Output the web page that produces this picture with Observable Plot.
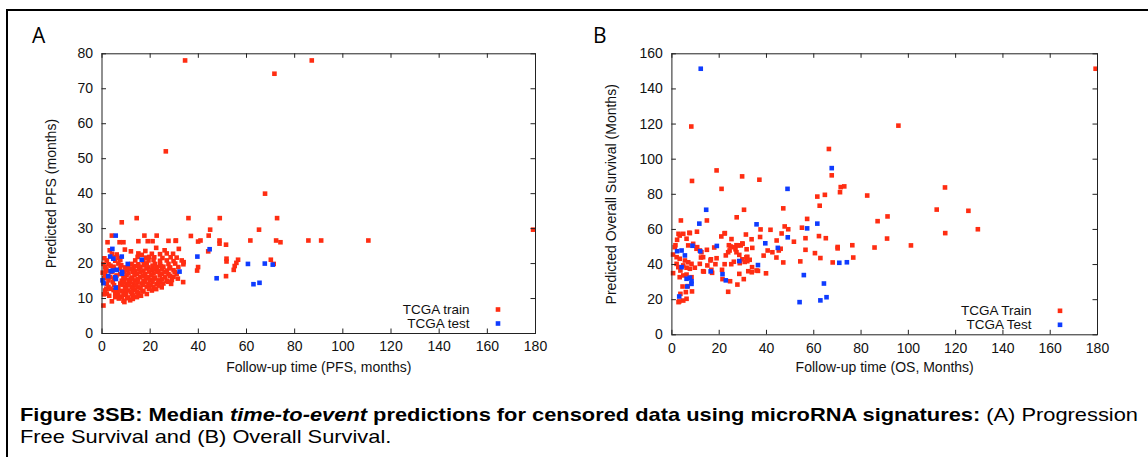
<!DOCTYPE html>
<html><head><meta charset="utf-8">
<script src="https://cdn.jsdelivr.net/npm/d3@7"></script>
<script src="https://cdn.jsdelivr.net/npm/@observablehq/plot@0.6"></script>
<style>
body{margin:0;background:#fff;}
#page{position:relative;width:1148px;height:457px;overflow:hidden;background:#fff;}
#box{position:absolute;left:6px;top:9px;width:1300px;height:600px;border-left:2px solid #000;border-top:2px solid #000;}
#pa{position:absolute;left:0;top:0;}
#pb{position:absolute;left:570px;top:0;}
#ov{position:absolute;left:0;top:0;}
</style></head>
<body><div id="page"><div id="box"></div><div id="pa"></div><div id="pb"></div><svg id="ov" width="1148" height="457"></svg></div>
<script>
// ---------- data ----------
const xTicks = [0,20,40,60,80,100,120,140,160,180];
const yTicksA = [0,10,20,30,40,50,60,70,80];
const yTicksB = [0,20,40,60,80,100,120,140,160];
const legendA = ["TCGA train","TCGA test"];
const legendB = ["TCGA Train","TCGA Test"];

const trainA = [
[34.5,78.1],[87.1,78.1],[71.6,74.3],[26.5,52.1],[67.7,40.0],[14.4,33.0],[35.9,33.0],[48.9,33.0],[72.7,33.0],[8.2,31.8],[179.0,29.7],[65.2,29.7],[44.9,29.7],[110.6,26.6],[91.0,26.6],[85.7,26.6],[72.3,26.6],[74.1,26.1],[61.6,26.6],[70.1,21.1],[71.3,19.9],[56.5,21.1],[55.8,20.2],[55.1,19.3],[54.7,18.2],[51.7,21.4],[51.7,20.6],[51.5,25.4],[51.5,16.4],[48.8,26.6],[48.8,25.7],[44.3,28.0],[44.1,23.5],[39.9,26.3],[40.9,26.6],[39.9,19.0],[39.5,18.0],[36.9,27.9],[33.9,20.4],[33.7,14.7],[30.7,26.6],[31.9,24.2],
[4.1,28.0],[8.9,26.1],[7.3,26.1],[2.3,26.1],[17.6,28.0],[22.7,28.0],[19.0,26.4],[21.0,26.4],[15.1,26.4],[27.6,26.5],[30.6,26.5],[3.2,23.8],[9.5,24.0],[12.0,23.5],[18.0,23.6],[22.5,24.5],[26.0,23.8],[29.5,22.8],[1.0,21.5],[1.5,18.5],[0.3,17.4],[1.0,15.8],[1.8,12.8],[0.8,11.2],[3.0,10.8],[9.3,9.0],[0.6,8.0],
[4.1,22.8],[6.1,22.6],[15.1,22.9],[16.5,22.5],[20.7,22.8],[24.1,22.7],[26.9,22.9],
[4.8,21.8],[6.8,21.6],[14.8,21.9],[18.3,21.7],[19.6,21.9],[21.7,21.8],[25.1,21.6],[28.5,21.8],[31.0,21.7],
[2.0,20.9],[5.5,20.8],[7.6,21.0],[13.8,20.9],[17.2,20.7],[19.3,20.9],[21.4,21.0],[24.1,20.8],[26.9,20.9],[29.7,20.7],[33.1,20.9],
[0.6,19.9],[2.7,19.8],[6.8,20.0],[12.3,19.9],[15.1,19.8],[18.6,20.0],[22.0,19.9],[24.1,19.7],[27.6,19.9],[30.4,20.0],[33.8,19.8],
[1.3,19.0],[4.8,19.1],[9.6,18.9],[13.1,19.0],[15.9,19.1],[19.3,18.9],[22.7,19.0],[25.5,19.1],[28.3,18.9],[31.7,19.0],
[2.0,18.0],[10.3,18.1],[13.8,17.9],[17.2,18.0],[20.7,18.1],[23.4,17.9],[26.9,18.0],[29.7,18.1],
[1.3,17.1],[7.6,17.0],[11.0,17.2],[14.5,17.1],[17.9,17.0],[21.4,17.2],[24.8,17.1],[27.6,17.0],[31.0,17.1],
[3.4,16.1],[8.9,16.2],[12.4,16.0],[15.8,16.1],[19.3,16.2],[22.0,16.0],[26.2,16.1],[29.7,16.2],
[2.7,15.2],[8.2,15.1],[11.0,15.3],[13.8,15.2],[17.2,15.1],[20.0,15.3],[23.4,15.2],[26.9,15.1],[29.0,15.3],
[2.0,14.2],[7.6,14.3],[10.3,14.1],[13.1,14.2],[16.5,14.3],[19.3,14.1],[22.7,14.2],[25.5,14.3],[28.7,14.2],
[2.7,13.3],[6.8,13.2],[9.6,13.4],[12.4,13.3],[15.1,13.2],[18.6,13.4],[21.4,13.3],[24.8,13.2],
[1.3,12.3],[4.8,12.4],[8.2,12.2],[11.0,12.3],[13.8,12.4],[17.2,12.2],[20.7,12.3],
[2.0,11.4],[5.5,11.5],[8.9,11.3],[12.4,11.4],[15.1,11.5],[18.6,11.3],
[5.5,10.4],[8.2,10.5],[11.0,10.3],[14.5,10.4],
[8.9,9.4],[11.7,9.5],[4.1,9.2],
[3.5,19.4],[8.0,19.5],[11.0,19.4],[14.0,19.3],[17.5,19.5],[21.0,19.4],[24.5,19.3],
[5.0,18.5],[7.5,18.6],[12.0,18.5],[15.5,18.4],[18.5,18.6],[22.0,18.5],[25.0,18.4],[28.0,18.6],
[4.0,17.6],[9.0,17.7],[12.8,17.6],[16.0,17.5],[19.5,17.7],[23.0,17.6],[26.0,17.5],[30.2,17.6],
[6.0,16.6],[10.2,16.7],[13.5,16.6],[17.0,16.5],[20.5,16.7],[24.0,16.6],[28.2,16.5],
[5.0,15.7],[9.5,15.8],[12.0,15.7],[15.0,15.6],[18.2,15.8],[21.5,15.7],[25.0,15.6],[31.5,15.7],
[4.5,14.7],[9.0,14.8],[11.8,14.7],[14.8,14.6],[18.0,14.8],[21.0,14.7],[24.2,14.6],[27.5,14.8],
[5.0,13.8],[8.5,13.9],[11.2,13.8],[14.2,13.7],[17.0,13.9],[20.2,13.8],[23.5,13.7],
[3.5,12.8],[6.5,12.9],[10.0,12.8],[13.0,12.7],[16.0,12.9],[19.5,12.8],[22.5,12.7],
[6.5,11.9],[9.8,12.0],[12.0,11.9],[14.5,11.8],[16.8,12.0],
[6.8,10.9],[10.0,11.0],[13.0,10.9],[16.2,10.8],
[7.0,10.0],[10.5,10.1],[12.8,9.9]
];
const testA = [
[5.7,28.0],[4.3,24.2],[3.4,22.0],[8.2,22.0],[4.7,21.4],[10.7,19.9],[16.5,21.1],[32.2,17.7],[0.2,15.2],[0.6,14.4],[2.6,16.4],[3.6,17.8],[4.4,18.0],[6.1,18.2],[8.3,17.6],[8.3,17.1],[5.5,16.1],[5.8,15.6],[5.7,13.1],[39.6,22.0],[44.7,24.1],[47.6,15.8],[60.6,19.9],[62.9,14.1],[65.4,14.5],[67.6,20.0],[70.9,19.7]
];
const trainB = [
[179.2,151.5],[95.8,119.1],[8.2,118.6],[66.4,105.8],[67.6,90.8],[18.9,93.6],[8.5,87.6],[29.7,90.2],[37.0,88.3],[21.0,83.1],[71.4,84.1],[72.9,84.5],[115.5,83.9],[82.6,79.3],[71.1,81.2],[64.7,79.7],[61.5,78.7],[62.5,73.5],[47.1,72.0],[30.5,71.2],[112.0,71.3],[125.4,70.6],[91.2,67.4],[87.0,64.7],[129.4,60.1],[115.6,57.9],[91.0,54.8],[101.1,50.9],[85.7,49.7],[76.3,51.0],[76.7,44.0],[70.1,50.0],[70.1,49.2],[68.0,41.2],[65.1,55.0],[62.8,43.7],[62.2,56.2],[60.5,46.5],[57.2,66.0],[55.0,61.0],[56.5,55.0],[56.5,48.4],[54.3,41.8],[51.6,53.0],[49.2,60.1],[47.7,61.7],[46.4,57.7],[46.0,49.0],[45.2,48.0],[44.3,53.7],[44.2,44.0],[42.5,47.0],[41.7,59.8],[47.1,41.2],[40.5,48.0],[39.8,35.0],[38.8,45.1],[37.5,60.0],[37.3,55.7],[36.4,36.4],[34.0,49.5],[33.7,54.4],[33.8,35.6],[31.9,44.4],[31.9,41.9],[31.6,48.7],[31.3,57.1],[30.4,31.7],[29.8,52.0],[29.1,50.9],[29.8,43.0],[30.8,41.5],[28.5,45.5],[28.5,34.7],[27.7,28.6],[27.3,51.0],[27.4,66.9],[26.9,48.7],[26.2,41.6],[25.2,54.5],[25.1,40.2],[24.6,30.5],[24.4,48.0],[24.1,51.0],[23.8,24.5],[23.8,47.0],[22.8,45.2],[22.3,57.7],[22.3,40.2],[21.4,31.7],[20.9,56.0],[21.2,37.0],[18.9,43.6],[18.4,40.2],[17.9,49.7],[16.5,43.0],[17.0,35.3],[15.0,39.5],[14.8,65.1],[14.8,48.4],[12.3,44.0],[13.5,36.0],[10.6,58.7],[10.7,49.9],[3.8,65.1],[7.6,57.9],[4.8,57.5],[3.3,56.5],[6.2,54.7],[2.2,54.1],[1.2,49.9],[6.9,50.9],[9.0,51.8],[10.4,49.0],[11.8,48.0],[0.5,45.7],[2.0,44.2],[3.3,43.3],[5.5,42.3],[6.9,41.3],[8.3,40.4],[4.8,39.5],[6.2,38.2],[7.6,37.6],[9.7,38.2],[0.5,35.1],[2.7,38.5],[3.6,36.6],[2.0,40.4],[3.3,32.8],[4.8,33.8],[6.2,34.3],[8.3,32.8],[4.5,27.5],[5.9,24.3],[6.2,20.5],[4.8,19.5],[3.1,19.0],[3.6,23.3],[6.7,27.7],[8.5,24.7],[2.8,18.6],[16.7,37.0],[16.3,42.3],[28.7,40.8],[32.9,42.7],[33.9,38.5],[32.3,36.2],[35.8,36.6],[26.2,49.9],[28.0,50.9],[29.9,51.8],[31.5,44.2],[22.4,57.9],[12.5,47.0],[13.2,44.2],[11.8,40.4],[13.2,36.2],[24.8,50.3],[27.3,47.0],[7.4,58.1],[2.8,57.5],[1.5,51.0]
];
const testB = [
[12.2,151.5],[67.6,94.9],[48.9,83.1],[14.5,71.2],[11.6,63.3],[35.8,62.9],[61.5,63.3],[57.2,60.6],[49.0,55.5],[39.5,52.1],[44.8,49.5],[19.0,50.6],[8.7,50.7],[12.0,47.6],[2.2,47.6],[4.1,48.0],[5.5,45.2],[4.1,38.5],[6.2,31.9],[7.6,32.5],[8.3,30.5],[8.3,29.0],[6.5,27.5],[3.1,21.8],[16.4,36.1],[21.4,34.5],[22.8,31.0],[28.5,42.0],[36.4,39.7],[55.8,34.0],[64.3,29.2],[54.0,18.6],[62.8,19.6],[65.4,21.4],[70.8,41.0],[74.0,41.3]
];

// ---------- style ----------
const RED = "#ff2d12", BLUE = "#0f3cff", INK = "#222";
const FONT = "'Liberation Sans', Arial, Helvetica, sans-serif";
const FS = 14;

function panel(o) {
  const plotW = o.width - o.mL - o.mR, plotH = o.height - o.mT - o.mB;
  const T = 4.5;
  const lt = {frameAnchor: "bottom-right", textAnchor: "end", lineAnchor: "middle", dx: -66, fontSize: 13.5, fill: "#111"};
  return Plot.plot({
    width: o.width, height: o.height,
    marginLeft: o.mL, marginRight: o.mR, marginTop: o.mT, marginBottom: o.mB,
    style: {fontFamily: FONT, fontSize: FS + "px", color: "#111", background: "none"},
    x: {domain: [0, 180]},
    y: {domain: [0, o.yMax]},
    marks: [
      Plot.dot(o.train, {x: d => d[0], y: d => d[1], symbol: "square", r: 2.6, fill: RED}),
      Plot.dot(o.test, {x: d => d[0], y: d => d[1], symbol: "square", r: 2.6, fill: BLUE}),
      Plot.frame({stroke: INK, strokeWidth: 1}),
      Plot.tickX(xTicks, {x: d => d, insetTop: plotH - T, stroke: INK}),
      Plot.tickX(xTicks, {x: d => d, insetBottom: plotH - T, stroke: INK}),
      Plot.tickY(o.yTicks, {y: d => d, insetRight: plotW - T, stroke: INK}),
      Plot.tickY(o.yTicks, {y: d => d, insetLeft: plotW - T, stroke: INK}),
      Plot.axisX({ticks: xTicks, tickSize: 0, tickPadding: 8, label: null, fontSize: FS, fill: "#111"}),
      Plot.axisY({ticks: o.yTicks, tickSize: 0, tickPadding: 9, label: null, fontSize: FS, fill: "#111"}),
      Plot.text([o.xTitle], {text: d => d, frameAnchor: "bottom", textAnchor: "middle", lineAnchor: "middle", dy: o.xTitleDy, fontSize: FS, fill: "#111"}),
      Plot.text([o.yTitle], {text: d => d, frameAnchor: "left", textAnchor: "middle", lineAnchor: "middle", rotate: -90, dx: o.yTitleDx, fontSize: FS, fill: "#111"}),
      Plot.text([o.legend[0]], {...lt, text: d => d, dy: -24}),
      Plot.text([o.legend[1]], {...lt, text: d => d, dy: -10}),
      Plot.dot([o.legend[0]], {frameAnchor: "bottom-right", dx: -37.5, dy: -24, symbol: "square", r: 2.6, fill: RED}),
      Plot.dot([o.legend[1]], {frameAnchor: "bottom-right", dx: -37.5, dy: -10, symbol: "square", r: 2.6, fill: BLUE})
    ]
  });
}

document.getElementById("pa").appendChild(panel({
  train: trainA, test: testA, yMax: 80, yTicks: yTicksA,
  xTitle: "Follow-up time (PFS, months)", yTitle: "Predicted PFS (months)", legend: legendA,
  width: 570, height: 390, mL: 101.5, mR: 35, mT: 53.3, mB: 57, xTitleDy: 34, yTitleDx: -50
}));
document.getElementById("pb").appendChild(panel({
  train: trainB, test: testB, yMax: 160, yTicks: yTicksB,
  xTitle: "Follow-up time (OS, Months)", yTitle: "Predicted Overall Survival (Months)", legend: legendB,
  width: 578, height: 390, mL: 101.4, mR: 51, mT: 53.3, mB: 55.7, xTitleDy: 33, yTitleDx: -60
}));

// ---------- overlay text: panel letters and caption ----------
const NS = "http://www.w3.org/2000/svg";
const ov = document.getElementById("ov");
function txt(x, y, str, attrs) {
  const t = document.createElementNS(NS, "text");
  t.setAttribute("x", x); t.setAttribute("y", y);
  for (const k in attrs) t.setAttribute(k, attrs[k]);
  if (str != null) t.textContent = str;
  ov.appendChild(t); return t;
}
txt(32, 43, "A", {"font-family": "'Open Sans', 'DejaVu Sans', sans-serif", "font-size": 21, fill: "#000"});
txt(593, 43, "B", {"font-family": "'Open Sans', 'DejaVu Sans', sans-serif", "font-size": 21, fill: "#000"});

const capParts1 = [
  ["Figure 3SB: Median ", "bold", "normal"],
  ["time-to-event", "bold", "italic"],
  [" predictions for censored data using microRNA signatures:", "bold", "normal"],
  [" (A) Progression", "normal", "normal"]
];
const capLine2 = "Free Survival and (B) Overall Survival.";
const capFont = "'Liberation Sans Narrow', 'Liberation Sans', Arial, sans-serif";
const l1 = txt(20, 421, null, {"font-family": capFont, "font-size": 19, fill: "#000", style: "white-space:pre"});
for (const [s, w, st] of capParts1) {
  const sp = document.createElementNS(NS, "tspan");
  sp.setAttribute("font-weight", w); sp.setAttribute("font-style", st);
  sp.textContent = s; l1.appendChild(sp);
}
const l2 = txt(20, 443, capLine2, {"font-family": capFont, "font-size": 19, fill: "#000", style: "white-space:pre"});
const w1 = l1.getComputedTextLength(), w2 = l2.getComputedTextLength();
const k = 1118 / w1;
l1.setAttribute("textLength", 1118); l1.setAttribute("lengthAdjust", "spacingAndGlyphs");
l2.setAttribute("textLength", w2 * k); l2.setAttribute("lengthAdjust", "spacingAndGlyphs");
</script>
</body></html>
